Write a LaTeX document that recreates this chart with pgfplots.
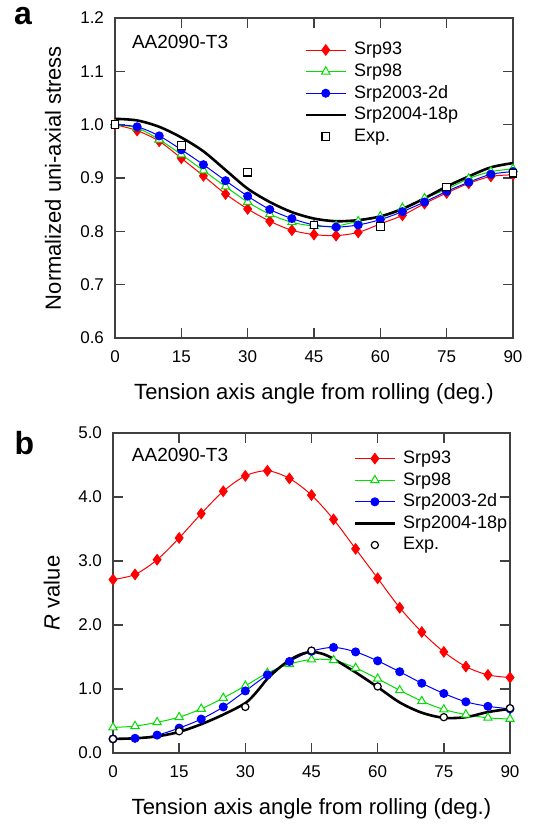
\documentclass[border=0pt]{standalone}
\usepackage{fontspec}
\setmainfont{Liberation Sans}
\usepackage{pgfplots}
\pgfplotsset{compat=1.18}
\definecolor{srpred}{HTML}{FF0000}
\definecolor{srpgreen}{HTML}{00DD00}
\definecolor{srpblue}{HTML}{0000FF}

\pgfplotsset{
  srpaxis/.style={
    scale only axis, xmin=0, xmax=90, xtick={0,15,...,90},
    tick align=inside, major tick length=5pt,
    axis line style={black!75, line width=0.7pt},
    every tick/.style={black!75, line width=0.7pt},
    tick label style={font=\fontsize{8.5}{9}\selectfont},
    /pgf/number format/assume math mode=true,
    y tick label style={/pgf/number format/fixed, /pgf/number format/fixed zerofill,
      /pgf/number format/precision=1, xshift=-2pt},
    x tick label style={yshift=-3pt},
    label style={font=\fontsize{11}{13}\selectfont},
    xlabel={Tension axis angle from rolling (deg.)},
    xlabel style={at={(axis description cs:0.5,-0.175)}, anchor=center},
    clip=false,
    legend cell align=left,
    legend image code/.code={\draw[mark repeat=2,mark phase=2] plot coordinates {(0pt,0pt) (10pt,0pt) (20pt,0pt)};},
    legend style={draw=none, fill=none, inner sep=0pt, anchor=north west,
      font=\fontsize{9}{10}\selectfont,
      nodes={inner sep=1pt, text height=6.8pt, text depth=2pt}, row sep=0pt,
      /tikz/every odd column/.append style={column sep=2.5pt}},
  },
  s93/.style={color=srpred, line width=0.5pt, smooth, mark=diamond*, mark size=2.6pt, mark options={solid, fill=srpred}},
  s98/.style={color=srpgreen, line width=0.5pt, smooth, mark=triangle*, mark size=2.4pt, mark options={solid, fill=white}},
  s03/.style={color=srpblue, line width=0.5pt, smooth, mark=*, mark size=2pt, mark options={solid, fill=srpblue}},
  s04/.style={color=black, line width=1.3pt, smooth, no markers},
}

\begin{document}
\begin{tikzpicture}
\useasboundingbox (0,0) rectangle (267.5pt,-413pt);

% ---- a: normalized stress
\begin{axis}[srpaxis, at={(57.5pt,-169pt)}, anchor=south west, width=199pt, height=160pt,
  ymin=0.6, ymax=1.2, ytick={0.6,0.7,...,1.21},
  ylabel={Normalized uni-axial stress},
  ylabel style={at={(axis description cs:-0.156,0.5)}, anchor=center},
  legend style={at={(rel axis cs:0.475,0.935)}}]
\addplot[s93] coordinates {(0,1.000) (5,0.989) (10,0.969) (15,0.937) (20,0.904) (25,0.870) (30,0.842) (35,0.819) (40,0.802) (45,0.794) (50,0.792) (55,0.798) (60,0.814) (65,0.830) (70,0.852) (75,0.872) (80,0.890) (85,0.903) (90,0.906)};
\addplot[s98] coordinates {(0,1.000) (5,0.994) (10,0.972) (15,0.944) (20,0.914) (25,0.884) (30,0.855) (35,0.832) (40,0.817) (45,0.810) (50,0.810) (55,0.819) (60,0.828) (65,0.844) (70,0.862) (75,0.879) (80,0.899) (85,0.912) (90,0.917)};
\addplot[s03] coordinates {(0,1.000) (5,0.996) (10,0.979) (15,0.953) (20,0.925) (25,0.895) (30,0.866) (35,0.841) (40,0.824) (45,0.812) (50,0.808) (55,0.812) (60,0.822) (65,0.837) (70,0.855) (75,0.875) (80,0.892) (85,0.907) (90,0.912)};
\addplot[s04] coordinates {(0,1.011) (5,1.008) (10,0.996) (15,0.976) (20,0.950) (25,0.915) (30,0.880) (35,0.855) (40,0.836) (45,0.824) (50,0.819) (55,0.821) (60,0.828) (65,0.842) (70,0.862) (75,0.884) (80,0.903) (85,0.920) (90,0.928)};
\addplot[only marks, mark=square*, mark size=1.9pt, mark options={draw=black, fill=white, line width=0.6pt}] coordinates {(0,1.000) (15,0.961) (30,0.911) (45,0.812) (60,0.809) (75,0.883) (90,0.909)};
\legend{Srp93, Srp98, Srp2003-2d, Srp2004-18p, Exp.}
\node[anchor=west, font=\fontsize{9.5}{11}\selectfont] at (axis description cs:0.025,0.925) {AA2090-T3};
\end{axis}

% ---- b: R value
\begin{axis}[srpaxis, at={(56.5pt,-376.5pt)}, anchor=south west, width=198.5pt, height=160pt,
  ymin=0, ymax=5, ytick={0,1,...,5},
  ylabel={\textit{R} value},
  ylabel style={at={(axis description cs:-0.154,0.5)}, anchor=center},
  legend style={at={(rel axis cs:0.605,0.955)}}]
\addplot[s93] coordinates {(0,2.71) (5,2.79) (10,3.02) (15,3.36) (20,3.74) (25,4.09) (30,4.33) (35,4.41) (40,4.29) (45,4.03) (50,3.65) (55,3.19) (60,2.73) (65,2.27) (70,1.89) (75,1.58) (80,1.35) (85,1.22) (90,1.18)};
\addplot[s98] coordinates {(0,0.40) (5,0.42) (10,0.48) (15,0.56) (20,0.69) (25,0.86) (30,1.05) (35,1.25) (40,1.39) (45,1.46) (50,1.45) (55,1.33) (60,1.16) (65,0.98) (70,0.81) (75,0.68) (80,0.60) (85,0.55) (90,0.53)};
\addplot[s03] coordinates {(0,0.22) (5,0.23) (10,0.28) (15,0.39) (20,0.53) (25,0.72) (30,0.97) (35,1.22) (40,1.43) (45,1.59) (50,1.65) (55,1.58) (60,1.44) (65,1.27) (70,1.09) (75,0.93) (80,0.80) (85,0.73) (90,0.69)};
\addplot[s04] coordinates {(0,0.22) (5,0.23) (10,0.26) (15,0.33) (20,0.45) (25,0.60) (30,0.78) (32.5,0.95) (35,1.16) (37.5,1.32) (40,1.45) (42.5,1.54) (45,1.58) (47.5,1.55) (50,1.47) (55,1.26) (60,1.03) (65,0.79) (70,0.63) (75,0.55) (80,0.56) (85,0.64) (90,0.69)};
\addplot[only marks, mark=*, mark size=1.8pt, mark options={draw=black, fill=white, line width=0.6pt}] coordinates {(0,0.22) (15,0.34) (30,0.72) (45,1.60) (60,1.04) (75,0.56) (90,0.70)};
\legend{Srp93, Srp98, Srp2003-2d, Srp2004-18p, Exp.}
\node[anchor=west, font=\fontsize{9.5}{11}\selectfont] at (axis description cs:0.03,0.931) {AA2090-T3};
\end{axis}

\node[anchor=base, font=\bfseries\fontsize{16}{18}\selectfont] at (11.5pt,-12pt) {a};
\node[anchor=base, font=\bfseries\fontsize{16}{18}\selectfont] at (12.25pt,-227pt) {b};
\end{tikzpicture}
\end{document}
